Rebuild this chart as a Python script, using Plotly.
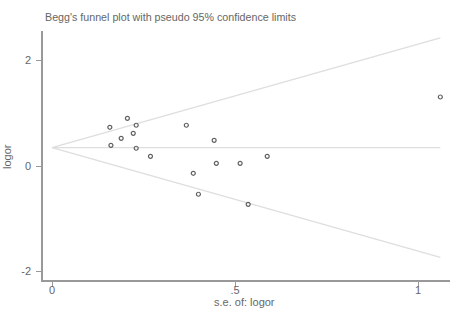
import plotly.graph_objects as go

# standard errors and log odds ratios of the studies
se = [0.158, 0.206, 0.230, 0.189, 0.222, 0.161, 0.230, 0.269, 0.367,
      0.443, 0.449, 0.514, 0.588, 0.386, 0.400, 0.536, 1.061]
logor = [0.734, 0.904, 0.772, 0.525, 0.620, 0.392, 0.336, 0.184, 0.772,
         0.487, 0.051, 0.051, 0.184, -0.138, -0.536, -0.726, 1.308]
pooled = 0.347
z = 1.96
xtick_vals = [0, 0.5, 1]
xtick_text = ["0", ".5", "1"]
ytick_vals = [-2, 0, 2]
ytick_text = ["-2", "0", "2"]

se_max = max(se)
se_line = [0, se_max]
upper = [pooled + z * s for s in se_line]
lower = [pooled - z * s for s in se_line]
mid = [pooled for s in se_line]

W, H = 460, 314
L, R, T, B = 43, 10, 31, 34
pw, ph = W - L - R, H - T - B

fig = go.Figure()
line_style = dict(color="#dedede", width=1.3)
for yy in (upper, lower, mid):
    fig.add_trace(go.Scatter(x=se_line, y=yy, mode="lines", line=line_style,
                             hoverinfo="skip", showlegend=False))
fig.add_trace(go.Scatter(x=se, y=logor, mode="markers",
                         marker=dict(symbol="circle-open", size=4,
                                     color="#606060", line=dict(width=1.2)),
                         showlegend=False))

font_family = "Liberation Sans, Arial, sans-serif"
fig.update_layout(
    width=W, height=H,
    margin=dict(l=L, r=R, t=T, b=B),
    paper_bgcolor="white", plot_bgcolor="white",
    font=dict(family=font_family, color="#666666", size=11),
    xaxis=dict(range=[-0.0246, 1.0874], showgrid=False, zeroline=False,
               showline=True, linecolor="#999999", linewidth=1.5,
               ticks="outside", ticklen=5, tickcolor="#999999", tickwidth=1.2,
               tickvals=xtick_vals, ticktext=xtick_text,
               ticklabelstandoff=-6,
               tickfont=dict(size=11, color="#666666")),
    yaxis=dict(range=[-2.161, 2.559], showgrid=False, zeroline=False,
               showline=True, linecolor="#999999", linewidth=1.5,
               ticks="outside", ticklen=5, tickcolor="#999999", tickwidth=1.2,
               tickvals=ytick_vals, ticktext=ytick_text,
               ticklabelstandoff=3,
               tickfont=dict(size=11, color="#666666")),
    annotations=[
        dict(text="Begg's funnel plot with pseudo 95% confidence limits",
             xref="paper", yref="paper", x=0, y=(H - 17 - B) / ph,
             xanchor="left", yanchor="middle", showarrow=False,
             font=dict(size=10.7, color="#666666")),
        dict(text="logor", xref="paper", yref="paper",
             x=(7 - L) / pw, y=(H - B - 157) / ph, textangle=-90,
             xanchor="center", yanchor="middle", showarrow=False,
             font=dict(size=11, color="#666666")),
        dict(text="s.e. of: logor", xref="paper", yref="paper",
             x=(244 - L) / pw, y=(H - B - 302) / ph,
             xanchor="center", yanchor="middle", showarrow=False,
             font=dict(size=11, color="#666666")),
    ],
)

fig.write_html("out.html",
               config={"displayModeBar": False},
               post_script="document.body.style.margin='0';"
                           "document.body.style.overflow='hidden';")
